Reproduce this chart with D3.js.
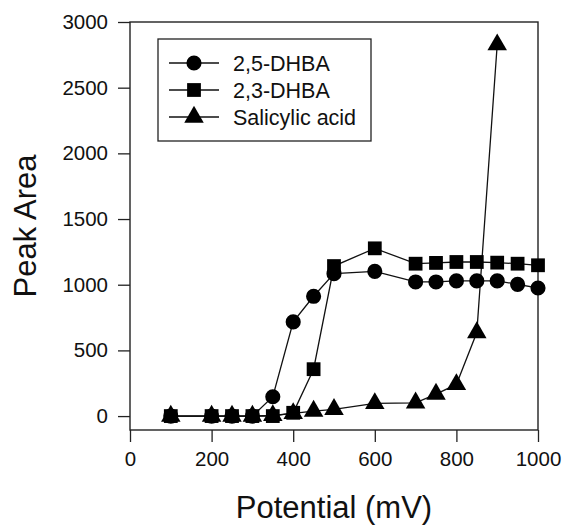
<!DOCTYPE html>
<html lang="en">
  <head>
    <meta charset="UTF-8" />
    <title>Peak Area vs Potential</title>
    <style>
      body { margin: 0; background: #fff; }
      svg { display: block; font-family: "Liberation Sans", Arial, sans-serif; }
      .axis path { display: none; }
      .axis line { stroke: #222; stroke-width: 1.3px; }
      .axis text { font-size: 20.5px; fill: #111; }
    </style>
  </head>
  <body>
    <div class="chart"></div>

    <script src="https://cdn.jsdelivr.net/npm/d3@7/dist/d3.min.js"></script>
    <script>
    // data
    var potential = [100, 200, 250, 300, 350, 400, 450, 500, 600, 700, 750, 800, 850, 900, 950, 1000];
    var dhba25 = [0, 0, 0, 0, 147, 717, 912, 1084, 1102, 1021, 1021, 1029, 1029, 1029, 1003, 975];
    var dhba23 = [0, 0, 0, 0, 0, 25, 357, 1142, 1277, 1160, 1166, 1173, 1173, 1168, 1160, 1148];
    var salicylic = [0, 0, 0, 0, 5, 20, 38, 51, 96, 101, 167, 241, 636, 2827];
    var seriesNames = ["2,5-DHBA", "2,3-DHBA", "Salicylic acid"];
    var yTicks = [0, 500, 1000, 1500, 2000, 2500, 3000];
    var xTicks = [0, 200, 400, 600, 800, 1000];

    var w = 562, h = 525;
    var svg = d3.select(".chart").append("svg")
      .attr("width", w)
      .attr("height", h);

    var x = d3.scaleLinear().domain([0, 1000]).range([130, 538]);
    var y = d3.scaleLinear().domain([-106, 3000]).range([430, 22]);

    // frame
    svg.append("rect")
      .attr("x", x(0))
      .attr("y", y(3000))
      .attr("width", x(1000) - x(0))
      .attr("height", y(-106) - y(3000))
      .attr("fill", "none")
      .attr("stroke", "#222")
      .attr("stroke-width", 1.4);

    svg.append("g")
      .attr("class", "axis")
      .attr("transform", "translate(" + x(0) + ",0)")
      .call(d3.axisLeft(y).tickValues(yTicks).tickSize(12).tickPadding(10).tickFormat(d3.format("d")));

    svg.append("g")
      .attr("class", "axis")
      .attr("transform", "translate(0," + y(-106) + ")")
      .call(d3.axisBottom(x).tickValues(xTicks).tickSize(12).tickPadding(9).tickFormat(d3.format("d")));

    // axis titles
    svg.append("text")
      .attr("x", (x(0) + x(1000)) / 2)
      .attr("y", 518)
      .attr("text-anchor", "middle")
      .attr("font-size", 31)
      .attr("fill", "#111")
      .text("Potential (mV)");

    svg.append("text")
      .attr("transform", "translate(36," + (y(3000) + y(-106)) / 2 + ") rotate(-90)")
      .attr("text-anchor", "middle")
      .attr("font-size", 31)
      .attr("fill", "#111")
      .text("Peak Area");

    var symbols = [d3.symbolCircle, d3.symbolSquare, d3.symbolTriangle];
    var sizes = [180, 190, 165];
    var all = [dhba25, dhba23, salicylic];

    var line = d3.line()
      .x(function(d) { return x(d[0]); })
      .y(function(d) { return y(d[1]); });

    all.forEach(function(vals, i) {
      var pts = vals.map(function(v, j) { return [potential[j], v]; });
      svg.append("path")
        .datum(pts)
        .attr("d", line)
        .attr("fill", "none")
        .attr("stroke", "#111")
        .attr("stroke-width", 1.3);
    });

    all.forEach(function(vals, i) {
      var pts = vals.map(function(v, j) { return [potential[j], v]; });
      svg.append("g").selectAll("path")
        .data(pts)
        .enter()
        .append("path")
        .attr("transform", function(d) {
          return "translate(" + x(d[0]) + "," + y(d[1]) + ")";
        })
        .attr("d", d3.symbol().type(symbols[i]).size(sizes[i]))
        .attr("fill", "#000");
    });

    // legend
    var lg = svg.append("g");
    lg.append("rect")
      .attr("x", 158)
      .attr("y", 39)
      .attr("width", 213)
      .attr("height", 102)
      .attr("fill", "#fff")
      .attr("stroke", "#222")
      .attr("stroke-width", 1.3);

    seriesNames.forEach(function(name, i) {
      var ly = 63 + i * 27;
      lg.append("line")
        .attr("x1", 169).attr("x2", 219)
        .attr("y1", ly).attr("y2", ly)
        .attr("stroke", "#111")
        .attr("stroke-width", 1.3);
      lg.append("path")
        .attr("transform", "translate(194," + ly + ")")
        .attr("d", d3.symbol().type(symbols[i]).size(sizes[i]))
        .attr("fill", "#000");
      lg.append("text")
        .attr("x", 233)
        .attr("y", ly)
        .attr("dy", "0.36em")
        .attr("font-size", 21.5)
        .attr("fill", "#111")
        .text(name);
    });
    </script>
  </body>
</html>
